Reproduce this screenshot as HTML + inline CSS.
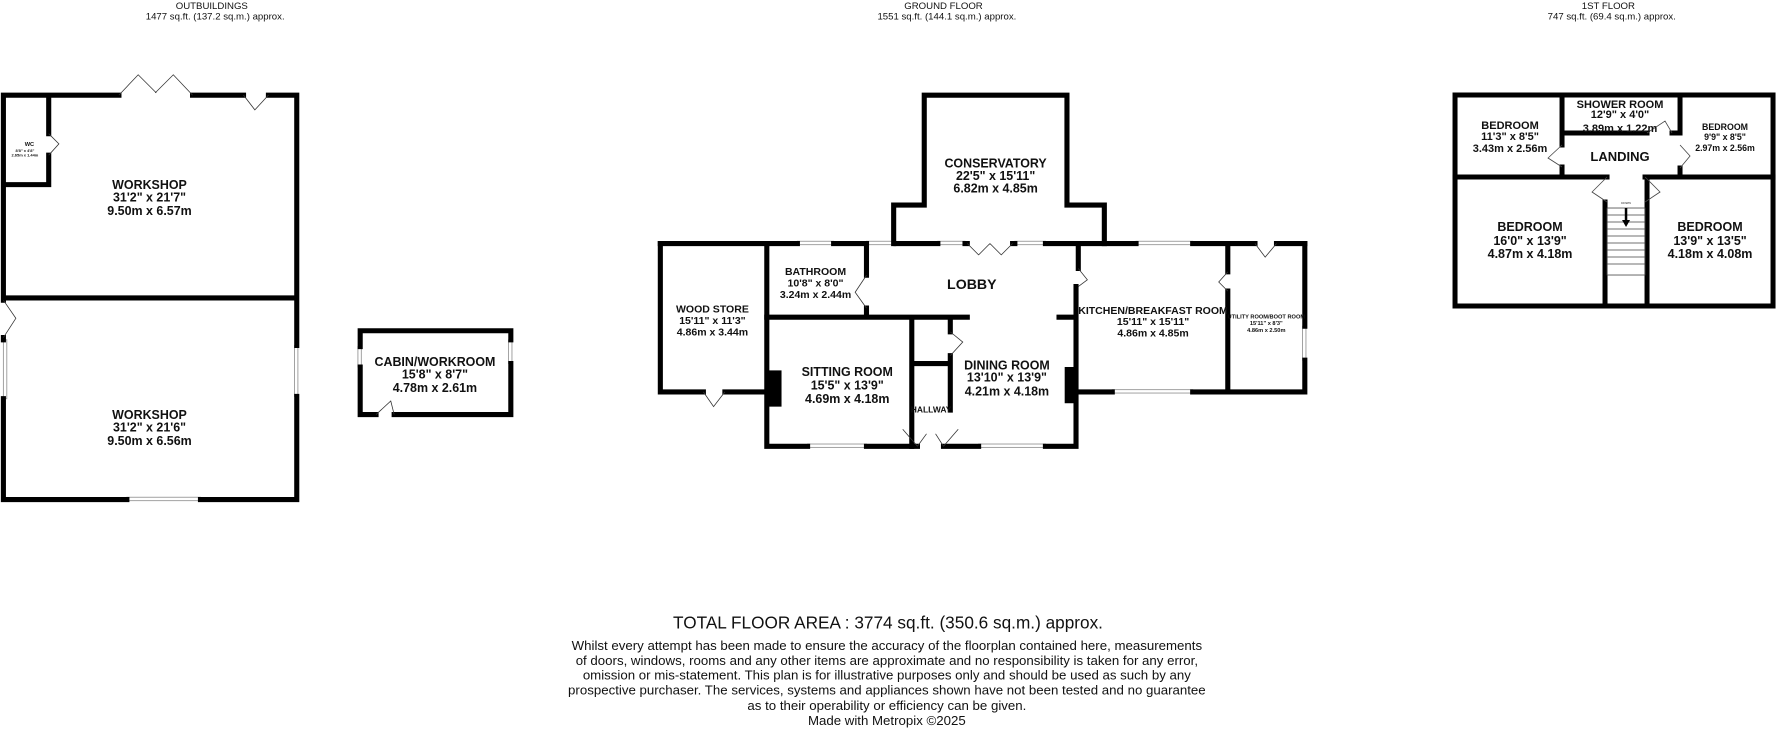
<!DOCTYPE html>
<html><head><meta charset="utf-8"><style>
html,body{margin:0;padding:0;background:#fff;}
svg{display:block;}
text{font-family:"Liberation Sans",Arial,sans-serif;fill:#111;}
</style></head><body>
<svg width="1776" height="729" viewBox="0 0 1568 643.6" preserveAspectRatio="none" xmlns="http://www.w3.org/2000/svg">
<rect width="1568" height="644" fill="#fff"/>
<g font-size="8.5" text-anchor="middle">
<text x="187" y="8">OUTBUILDINGS</text><text x="190" y="17">1477 sq.ft. (137.2 sq.m.) approx.</text>
<text x="833" y="8">GROUND FLOOR</text><text x="836" y="17">1551 sq.ft. (144.1 sq.m.) approx.</text>
<text x="1420" y="8">1ST FLOOR</text><text x="1423" y="17">747 sq.ft. (69.4 sq.m.) approx.</text>
</g>
<g fill="#fff" stroke="#999" stroke-width="0.8">
<rect x="3" y="300" width="3" height="52"/><rect x="260" y="305" width="3" height="45"/><rect x="112" y="439" width="65" height="3"/>
<rect x="316" y="306" width="3" height="18"/><rect x="449" y="300" width="3" height="21"/>
<rect x="704" y="213" width="32" height="3"/><rect x="765" y="213" width="26" height="3"/><rect x="828" y="213" width="24" height="3"/><rect x="896" y="213" width="27" height="3"/><rect x="1003" y="213" width="50" height="3"/>
<rect x="713" y="392" width="52" height="3"/><rect x="864" y="392" width="59" height="3"/><rect x="982" y="344" width="71" height="3"/><rect x="1150" y="288" width="3" height="30"/>
</g>
<g fill="none" stroke="#000" stroke-width="4.5" stroke-linecap="square">
<path d="M3 84H105M170 84H215M237 84H262V305M262 350V441H177M112 441H3V352M3 300V298M3 265V84M3 263H262M43 84V118M43 137V163H3"/>
<path d="M318 306V292H451V300M451 321V366H348M332 366H318V324"/>
<path d="M583 215H704M736 215H765M791 215H828M852 215H854M894 215H896M923 215H1003M1053 215H1108M1127 215H1152"/>
<path d="M789 215V181H816V84H942V181H975V215"/>
<path d="M583 215V346H621M640 346H677M677 215V394H713M765 394H810M833 394H864M923 394H950V253M952 215V237M935 280H950"/>
<path d="M950 346H982M1053 346H1152V318M1152 288V215M1084 215V240M1084 257V346"/>
<path d="M677 280H854M765 215V243M765 272V280M805 280V394M839 280V293M839 314V362M805 321H839"/>
</g>
<g fill="#000"><rect x="677" y="327" width="13" height="32"/><rect x="940" y="324" width="10" height="32"/></g>
<g fill="none" stroke="#333" stroke-width="0.7">
<path d="M105 84L122 66L138 82M170 84L153 66L137 82M215 84L225 97L237 84M3 265L14 281L3 298M43 118L52 127L43 137M332 366L345 354L348 366"/>
<path d="M621 346L630 359L640 346M765 243L755 258L765 272M854 215L864 225L874 215M894 215L884 225L874 215M952 237L960 247L952 253M1084 240L1076 249L1084 257M1108 215L1117 227L1127 215M839 293L850 302L839 314M810 394L797 379M833 394L846 379M810 394L818 383M833 394L826 383"/>
</g>
<g text-anchor="middle" font-weight="bold">
<g font-size="11"><text x="132" y="167">WORKSHOP</text><text x="132" y="178">31'2"  x 21'7"</text><text x="132" y="190">9.50m  x 6.57m</text>
<text x="132" y="370">WORKSHOP</text><text x="132" y="381">31'2"  x 21'6"</text><text x="132" y="393">9.50m  x 6.56m</text>
<text x="384" y="323">CABIN/WORKROOM</text><text x="384" y="334">15'8"  x 8'7"</text><text x="384" y="346">4.78m  x 2.61m</text>
<text x="879" y="148">CONSERVATORY</text><text x="879" y="159">22'5"  x 15'11"</text><text x="879" y="170">6.82m  x 4.85m</text>
<text x="748" y="332">SITTING ROOM</text><text x="748" y="344">15'5"  x 13'9"</text><text x="748" y="356">4.69m  x 4.18m</text>
<text x="889" y="326">DINING ROOM</text><text x="889" y="337">13'10"  x 13'9"</text><text x="889" y="349">4.21m  x 4.18m</text>
<text x="858" y="255" font-size="12.5">LOBBY</text></g>
<g font-size="9.3"><text x="629" y="276">WOOD STORE</text><text x="629" y="286">15'11"  x 11'3"</text><text x="629" y="296">4.86m  x 3.44m</text>
<text x="720" y="243">BATHROOM</text><text x="720" y="253">10'8"  x 8'0"</text><text x="720" y="263">3.24m  x 2.44m</text>
<text x="1018" y="277">KITCHEN/BREAKFAST ROOM</text><text x="1018" y="287">15'11"  x 15'11"</text><text x="1018" y="297">4.86m  x 4.85m</text>
<text x="822" y="364" font-size="7.5">HALLWAY</text></g>
<g font-size="5"><text x="1118" y="281">UTILITY ROOM/BOOT ROOM</text><text x="1118" y="287">15'11"  x 8'3"</text><text x="1118" y="293">4.86m  x 2.50m</text>
<text x="26" y="129">WC</text><text x="22" y="134" font-size="3.5">8'8" x 4'8"</text><text x="22" y="138" font-size="3.5">2.65m x 1.44m</text></g>
</g>
<g transform="scale(0.8829)">
<g fill="none" stroke="#000" stroke-width="5" stroke-linecap="square">
<path d="M1455 95H1773V306H1455Z"/>
<path d="M1455 177H1607M1645 177H1773M1562 95V145M1562 167V177M1562 133H1647M1672 133H1680V95M1680 168V177M1605 202V306M1647 177V306"/>
</g>
<g fill="none" stroke="#444" stroke-width="0.8">
<path d="M1562 145L1548 158L1562 167M1680 168L1690 156L1680 145M1647 133L1665 121L1672 133M1607 177L1592 192L1607 202M1645 177L1660 192L1645 202"/>
<rect x="1607" y="208" width="38" height="67"/>
<path d="M1607 215H1645M1607 222H1645M1607 229H1645M1607 236H1645M1607 243H1645M1607 250H1645M1607 257H1645M1607 264H1645"/>
</g>
<path d="M1626 208V222" stroke="#000" stroke-width="2.5"/><path d="M1622 220L1630 220L1626 227Z" fill="#000"/>
<text x="1626" y="204" font-size="3" text-anchor="middle">DOWN</text>
<g text-anchor="middle" font-weight="bold">
<g font-size="11"><text x="1510" y="129">BEDROOM</text><text x="1510" y="140">11'3"  x 8'5"</text><text x="1510" y="152">3.43m  x 2.56m</text>
<text x="1620" y="108">SHOWER ROOM</text><text x="1620" y="118">12'9"  x 4'0"</text><text x="1620" y="132">3.89m  x 1.22m</text></g>
<g font-size="8.8"><text x="1725" y="130">BEDROOM</text><text x="1725" y="140">9'9"  x 8'5"</text><text x="1725" y="151">2.97m  x 2.56m</text></g>
<text x="1620" y="161" font-size="13">LANDING</text>
<g font-size="12.5"><text x="1530" y="231">BEDROOM</text><text x="1530" y="245">16'0"  x 13'9"</text><text x="1530" y="258">4.87m  x 4.18m</text>
<text x="1710" y="231">BEDROOM</text><text x="1710" y="245">13'9"  x 13'5"</text><text x="1710" y="258">4.18m  x 4.08m</text></g>
</g>
</g>
<g text-anchor="middle">
<text x="784" y="555" font-size="15.2">TOTAL FLOOR AREA : 3774 sq.ft. (350.6 sq.m.) approx.</text>
<g font-size="11.7">
<text x="783" y="574">Whilst every attempt has been made to ensure the accuracy of the floorplan contained here, measurements</text>
<text x="783" y="587">of doors, windows, rooms and any other items are approximate and no responsibility is taken for any error,</text>
<text x="783" y="600">omission or mis-statement. This plan is for illustrative purposes only and should be used as such by any</text>
<text x="783" y="613">prospective purchaser. The services, systems and appliances shown have not been tested and no guarantee</text>
<text x="783" y="627">as to their operability or efficiency can be given.</text>
<text x="783" y="640">Made with Metropix ©2025</text>
</g></g>
</svg>
</body></html>
